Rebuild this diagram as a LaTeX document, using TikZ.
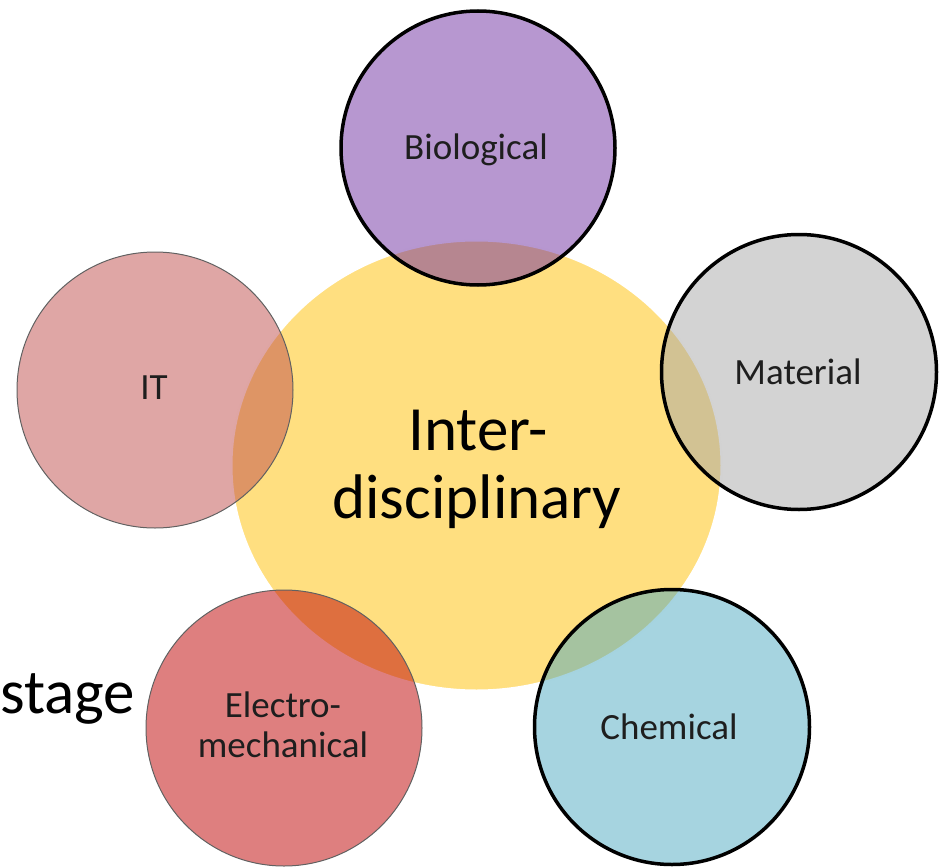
\documentclass[tikz,border=0pt]{standalone}
\usepackage{fontspec}
\setmainfont{Carlito}
\usetikzlibrary{shapes.geometric}
\definecolor{cyellow}{RGB}{255,223,128}
\definecolor{cpurple}{RGB}{111,47,161}
\definecolor{cgrey}{RGB}{167,167,167}
\definecolor{cblue}{RGB}{77,169,193}
\definecolor{cpink}{RGB}{191,77,75}
\definecolor{cred}{RGB}{190,0,0}
\definecolor{ctext}{RGB}{30,30,30}
\begin{document}
\begin{tikzpicture}[x=1pt,y=-1pt,
  disc/.style={circle, minimum size=#1, inner sep=0pt, fill opacity=0.5},
  thickring/.style={draw=black, line width=3.5pt},
  thinring/.style={draw=black!62, line width=1pt},
  lab/.style={anchor=base, inner sep=0pt, text=ctext, font=\fontsize{37}{40}\selectfont},
  big/.style={anchor=base, inner sep=0pt, text=black, font=\fontsize{63}{68}\selectfont}]
\useasboundingbox (0,0) rectangle (943,867);
% central ellipse
\node[ellipse, minimum width=490pt, minimum height=450pt, inner sep=0pt,
      fill=cyellow, draw=white, line width=2pt] (core) at (476.5,465.5) {};
% satellite circles
\node[disc=274pt, fill=cpurple, thickring] (bio) at (478,148) {};
\node[disc=275pt, fill=cgrey, thickring] (mat) at (799,372) {};
\node[disc=275pt, fill=cblue, thickring] (chem) at (672,727) {};
\node[disc=276pt, fill=cpink, thinring] (it) at (155,390) {};
\node[disc=276pt, fill=cred, thinring] (em) at (284,728) {};
% labels
\node[big] (inter) at (478,450) {Inter-};
\node[big] (disc) at (477,518) {disciplinary};
\node[lab] (biol) at (476,159) {Biological};
\node[lab] (matl) at (798,384) {Material};
\node[lab] (cheml) at (669,739) {Chemical};
\node[lab] (itl) at (154,399) {IT};
\node[lab] (eml1) at (283,717) {Electro-};
\node[lab] (eml2) at (283,757) {mechanical};
\node[anchor=base west, inner sep=0pt, font=\fontsize{63}{68}\selectfont] (stage) at (0,713) {stage};
\end{tikzpicture}
\end{document}
